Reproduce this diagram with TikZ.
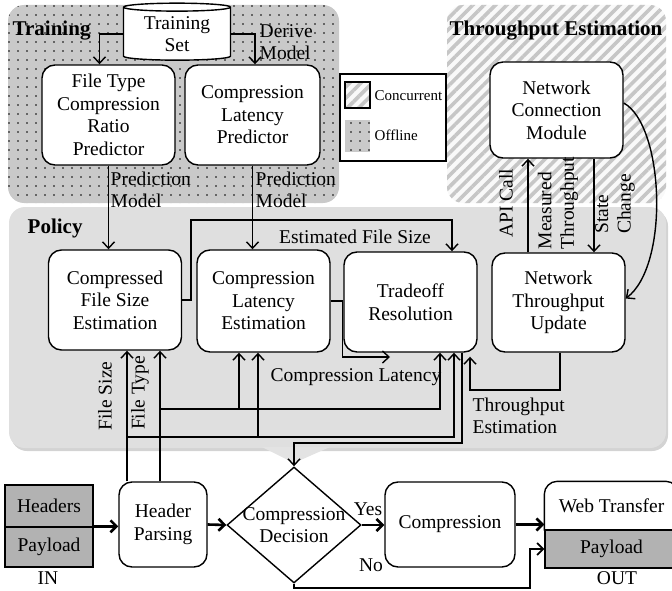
\documentclass[tikz,border=0pt]{standalone}
\usepackage{fontspec}
\setmainfont{Liberation Serif}
\usetikzlibrary{arrows.meta,shapes.geometric,patterns.meta,shadows}

\begin{document}
\begin{tikzpicture}[
        x=1pt, y=-1pt,
        font=\fontsize{19.5}{22.5}\selectfont,
        line width=1.4pt,
        blk/.style={draw, fill=white, rounded corners=13pt, align=center,
            inner sep=2pt, minimum width=133pt, minimum height=100pt},
        arr/.style={-{Straight Barb[length=6.5pt,width=12pt]}},
        bigarr/.style={line width=2.6pt, -{Straight Barb[length=6pt,width=12pt]}},
        head/.style={font=\fontsize{21}{24}\selectfont\bfseries, anchor=west, inner sep=0pt},
        side/.style={align=left, inner sep=0pt, anchor=west},
        legtext/.style={font=\fontsize{15}{17}\selectfont, anchor=west, inner sep=0pt},
        packet/.style={draw, fill=gray!60, inner sep=0pt},
        offline/.style={preaction={fill=gray!42},
            pattern={Dots[distance=9pt,radius=0.95pt]}, pattern color=black},
        concurrent/.style={preaction={fill=white!95!gray},
            pattern={Lines[angle=45,distance=8pt,line width=3.6pt]}, pattern color=gray!45}
    ]
    \useasboundingbox (0,0) rectangle (672,591);

    % background blocks
    \path[offline, rounded corners=16pt] (8,5) rectangle (339,203);
    \path[concurrent, rounded corners=16pt] (447,5) rectangle (666,203);
    \path[fill=gray!25, rounded corners=16pt,
        drop shadow={shadow xshift=2pt, shadow yshift=-3pt, opacity=0.35}] (9,207) rectangle (666,448);
    \fill[gray!22] (262,447) -- (330,447) -- (294,463) -- cycle;

    \node[head] (trainlbl) at (12,31) {Training};
    \node[head] (tputlbl) at (449,31) {Throughput Estimation};
    \node[head] (pollbl) at (27,228) {Policy};

    % legend
    \node[draw, fill=white, minimum width=106pt, minimum height=87pt, inner sep=0pt] (legend) at (393,117.5) {};
    \path[concurrent, draw] (345,82) rectangle (370,108);
    \path[offline] (345,120) rectangle (370,152);
    \node[legtext] (lgconc) at (374,96) {Concurrent};
    \node[legtext] (lgoff) at (374,135) {Offline};

    % training
    \node[draw, fill=white, cylinder, shape border rotate=90, aspect=0.12,
        minimum width=107pt, minimum height=57pt, align=center, inner sep=0pt] (tset) at (177,34) {Training\\Set};
    \node[blk] (ftcrp) at (108.5,115) {File Type\\Compression\\Ratio\\Predictor};
    \node[blk, minimum width=135pt] (clp) at (252.5,115) {Compression\\Latency\\Predictor};

    \draw[arr] (tset.west) -| ([xshift=-9pt]ftcrp.north);
    \draw[arr] (tset.east) -| ([xshift=2.5pt]clp.north);
    \node[side] (derive) at (259,42) {Derive\\Model};

    % throughput estimation
    \node[blk, minimum height=96pt] (ncm) at (556.5,110) {Network\\Connection\\Module};

    % policy
    \node[blk] (cfse) at (115,300) {Compressed\\File Size\\Estimation};
    \node[blk, minimum height=102pt] (cle) at (263.5,301) {Compression\\Latency\\Estimation};
    \node[blk] (tor) at (410.5,302) {Tradeoff\\Resolution};
    \node[blk, minimum height=99pt] (ntu) at (558.5,302.5) {Network\\Throughput\\Update};

    \draw[arr] (ftcrp.south) -- (ftcrp.south |- cfse.north);
    \node[side] (pm1) at (110,190) {Prediction\\Model};
    \draw[arr] (clp.south) -- (clp.south |- cle.north);
    \node[side] (pm2) at (255,190) {Prediction\\Model};

    \coordinate (efs) at (191,220);
    \draw[arr] (cfse.east) -| (efs) -| ([xshift=41.5pt]tor.north);
    \node (efslbl) at (355,237) {Estimated File Size};

    \coordinate (clend) at (390,357);
    \draw[arr] (cle.east) -- ++(12,0) |- (clend);
    \node (cllbl) at (356,377) {Compression Latency};

    \draw[arr] ([xshift=-30.5pt]ntu.north) -- ([xshift=-30.5pt]ntu.north |- ncm.south);
    \draw[arr] ([xshift=37.5pt]ncm.south) -- ([xshift=37.5pt]ncm.south |- ntu.north);
    \draw[arr] ([yshift=7pt]ncm.east) .. controls (664,125) and (670,265) .. ([yshift=4pt]ntu.east);
    \node[rotate=90] (apilbl) at (506,203) {API Call};
    \node[rotate=90, align=left] (mtlbl) at (558,203) {Measured\\Throughput};
    \node[rotate=90, align=left] (sclbl) at (615,204) {State\\Change};

    \coordinate (tpcorner) at (470,390);
    \draw[arr] ([xshift=1.5pt]ntu.south) |- (tpcorner) -- ([xshift=59.5pt,yshift=-4pt]tor.south);
    \node[side] (telbl) at (472,416) {Throughput\\Estimation};

    % request path
    \node[packet, minimum width=88pt, minimum height=42pt] (inhead) at (49,506) {Headers};
    \node[packet, minimum width=88pt, minimum height=40pt] (inpay) at (49,547) {Payload};
    \node (inlbl) at (48,578) {IN};
    \node[blk, minimum width=88pt, minimum height=85pt] (hp) at (163,524.5) {Header\\Parsing};
    \node[draw, fill=white, diamond, aspect=1.16, minimum width=134pt, minimum height=116pt, inner sep=0pt,
        label={[align=center]center:{Compression\\Decision}}] (dec) at (294,525) {};
    \node[blk, minimum width=130pt, minimum height=85pt] (comp) at (450,524.5) {Compression};
    \node[minimum width=133pt, minimum height=48pt, inner sep=0pt] (webt) at (611.5,506) {Web Transfer};
    \draw[rounded corners=13pt] (webt.south west) -- (webt.north west) -- (webt.north east) -- (webt.south east);
    \node[packet, minimum width=133pt, minimum height=38pt] (opay) at (611.5,549) {Payload};
    \node (outlbl) at (617,578) {OUT};

    % header fields
    \coordinate (fsize) at (127,437);
    \coordinate (ftype) at (160,409);
    \draw[arr] ([xshift=-36pt]hp.north) -- ([xshift=-36pt]hp.north |- cfse.south);
    \draw[arr] ([xshift=-3pt]hp.north) -- ([xshift=-3pt]hp.north |- cfse.south);
    \draw[arr] (ftype) -| ([xshift=29.5pt]tor.south);
    \draw[arr] (fsize) -| ([xshift=43.5pt]tor.south);
    \draw[arr] ([xshift=-24.5pt]cle.south |- ftype) -- ([xshift=-24.5pt]cle.south);
    \draw[arr] ([xshift=-5.5pt]cle.south |- fsize) -- ([xshift=-5.5pt]cle.south);
    \node[rotate=90] (fslbl) at (105,396) {File Size};
    \node[rotate=90] (ftlbl) at (140,393) {File Type};

    \coordinate (djoin) at (294,443);
    \draw[arr] ([xshift=51.5pt]tor.south) |- (djoin) -- (dec.north);

    \draw[bigarr] (inpay.north east) -- (inpay.north east -| hp.west);
    \draw[bigarr] (hp.east) -- (dec.west);
    \draw[bigarr] (dec.east) -- (dec.east -| comp.west);
    \node (yeslbl) at (368,509) {Yes};
    \draw[bigarr] (comp.east) -- (comp.east -| webt.west);
    \coordinate (nocorner) at (530,588);
    \draw[bigarr, line width=1.8pt] (dec.south) |- (nocorner) |- (opay.west);
    \node (nolbl) at (371,565) {No};
\end{tikzpicture}
\end{document}
